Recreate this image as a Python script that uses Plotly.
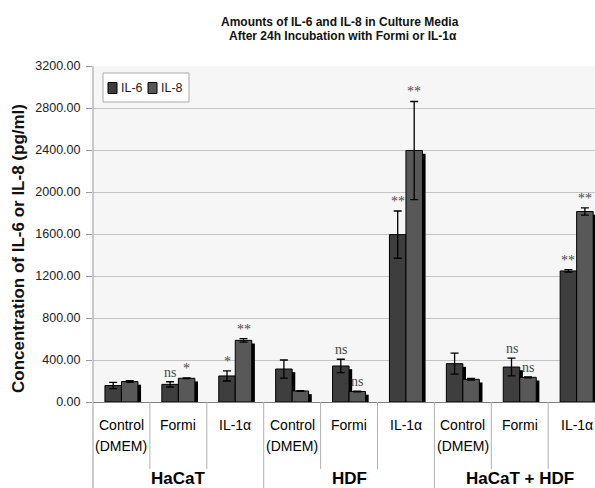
import plotly.graph_objects as go

# --- data ---------------------------------------------------------------
treatments = ["Control<br>(DMEM)", "Formi", "IL-1α"] * 3
groups = ["HaCaT", "HDF", "HaCaT + HDF"]
il6 = [157, 168, 248, 314, 343, 1594, 365, 333, 1248]
il6_err = [30, 25, 48, 86, 64, 225, 100, 84, 12]
il8 = [195, 226, 587, 105, 100, 2395, 216, 235, 1814]
il8_err = [8, 4, 17, 4, 4, 467, 8, 4, 35]
il6_sig = ["", "ns", "*", "", "ns", "**", "", "ns", "**"]
il8_sig = ["", "*", "**", "", "ns", "**", "", "ns", "**"]
y_ticks = [0, 400, 800, 1200, 1600, 2000, 2400, 2800, 3200]

# --- layout constants ---------------------------------------------------
W, H = 595, 488
ML, MT, MB, MR = 93, 66, 86, 0
PW, PH = W - ML - MR, H - MT - MB
CAT_PX = 56.9
X0 = -0.5
X1 = X0 + PW / CAT_PX
BW = 0.29          # width of one bar in category units
SH_DX = 0.055      # shadow offset (category units)
SH_DY = 30         # shadow drop (data units)

SANS = "Liberation Sans, Arial"
SERIF = "Liberation Serif, Times New Roman, serif"
C6 = "#3e3e3e"
C8 = "#585858"

x = list(range(len(il6)))


def px_x(p):
    return (p - ML) / PW


def px_y(p):
    return (MT + PH - p) / PH


def cat_x(c):
    return (c - X0) / (X1 - X0)


fig = go.Figure()

# drop shadows behind the bars
fig.add_trace(go.Bar(x=x, y=[v - SH_DY for v in il6], offset=-BW + SH_DX, width=BW,
                     marker=dict(color="black", line=dict(width=0)),
                     showlegend=False, hoverinfo="skip"))
fig.add_trace(go.Bar(x=x, y=[v - SH_DY for v in il8], offset=SH_DX, width=BW,
                     marker=dict(color="black", line=dict(width=0)),
                     showlegend=False, hoverinfo="skip"))

# the bars
fig.add_trace(go.Bar(x=x, y=il6, offset=-BW, width=BW, name="IL-6",
                     marker=dict(color=C6, line=dict(color="black", width=1)),
                     error_y=dict(type="data", array=il6_err, color="black",
                                  thickness=1.3, width=4)))
fig.add_trace(go.Bar(x=x, y=il8, offset=0, width=BW, name="IL-8",
                     marker=dict(color=C8, line=dict(color="black", width=1)),
                     error_y=dict(type="data", array=il8_err, color="black",
                                  thickness=1.3, width=4)))

ann = []
# significance markers
for i in x:
    for val, err, s, off in ((il6[i], il6_err[i], il6_sig[i], -BW / 2),
                             (il8[i], il8_err[i], il8_sig[i], BW / 2)):
        if s:
            ann.append(dict(x=i + off, y=val + err, xref="x", yref="y", text=s,
                            showarrow=False, yanchor="bottom", xanchor="center",
                            font=dict(family=SERIF, size=14, color="#4a4a4a")))

# treatment labels under each category (one annotation per line)
for i, t in enumerate(treatments):
    for k, line in enumerate(t.split("<br>")):
        ann.append(dict(x=cat_x(i), y=px_y(425 + 21 * k), xref="paper", yref="paper",
                        text=line, showarrow=False, yanchor="middle", xanchor="center",
                        font=dict(family=SANS, size=14, color="black")))

# cell-type group labels
for g, name in enumerate(groups):
    ann.append(dict(x=cat_x(3 * g + 1), y=px_y(478), xref="paper", yref="paper",
                    text="<b>%s</b>" % name, showarrow=False, yanchor="middle",
                    xanchor="center", font=dict(family=SANS, size=17, color="black")))

# title
ann.append(dict(x=px_x(340), y=px_y(22.5), xref="paper", yref="paper",
                text="<b>Amounts of IL-6 and IL-8 in Culture Media</b>", showarrow=False,
                yanchor="middle", xanchor="center",
                font=dict(family=SANS, size=12, color="#111")))
ann.append(dict(x=px_x(343), y=px_y(36.5), xref="paper", yref="paper",
                text="<b>After 24h Incubation with Formi or IL-1α</b>", showarrow=False,
                yanchor="middle", xanchor="center",
                font=dict(family=SANS, size=12, color="#111")))

# y-axis title
ann.append(dict(x=px_x(18), y=px_y(249), xref="paper", yref="paper",
                text="<b>Concentration of IL-6 or IL-8 (pg/ml)</b>", showarrow=False,
                textangle=-90, xanchor="center", yanchor="middle",
                font=dict(family=SANS, size=17, color="#111")))

# legend labels
ann.append(dict(x=px_x(119), y=px_y(88), xref="paper", yref="paper", text="IL-6",
                showarrow=False, xanchor="left", yanchor="middle",
                font=dict(family=SANS, size=12.5, color="#222")))
ann.append(dict(x=px_x(159), y=px_y(88), xref="paper", yref="paper", text="IL-8",
                showarrow=False, xanchor="left", yanchor="middle",
                font=dict(family=SANS, size=12.5, color="#222")))

shapes = []
# legend box and swatches
shapes.append(dict(type="rect", xref="paper", yref="paper",
                   x0=px_x(103), x1=px_x(189), y0=px_y(102), y1=px_y(73),
                   line=dict(color="#aaaaaa", width=1), fillcolor="white", layer="above"))
for left, col in ((108, C6), (148, C8)):
    shapes.append(dict(type="rect", xref="paper", yref="paper",
                       x0=px_x(left), x1=px_x(left + 9), y0=px_y(93.5), y1=px_y(82.5),
                       line=dict(color="black", width=1), fillcolor=col, layer="above"))

# separators below the category axis
for b in [k + 0.5 for k in range(8)]:
    long = b in (2.5, 5.5)
    shapes.append(dict(type="line", xref="paper", yref="paper",
                       x0=cat_x(b), x1=cat_x(b), y0=0,
                       y1=px_y(488 if long else 469),
                       line=dict(color="#b0b0b0", width=1)))
shapes.append(dict(type="line", xref="paper", yref="paper", x0=0, x1=0, y0=1,
                   y1=px_y(488), line=dict(color="#9a9a9a", width=1)))

fig.update_layout(
    width=W, height=H,
    margin=dict(l=ML, r=MR, t=MT, b=MB, pad=0),
    paper_bgcolor="white", plot_bgcolor="#f6f6f6",
    barmode="overlay", showlegend=False,
    annotations=ann, shapes=shapes,
    xaxis=dict(range=[X0, X1], showticklabels=False, showgrid=False, zeroline=False,
               showline=False, ticks=""),
    yaxis=dict(range=[0, 3200], tickvals=y_ticks, tickformat=".2f",
               ticks="outside", ticklen=6, tickcolor="#9a9a9a",
               ticklabelstandoff=3,
               tickfont=dict(family=SANS, size=12.5, color="#222"),
               showgrid=True, gridcolor="#c4c4c4", gridwidth=1,
               zeroline=True, zerolinecolor="#808080", zerolinewidth=1,
               showline=False),
)

fig.write_html("out.html")
